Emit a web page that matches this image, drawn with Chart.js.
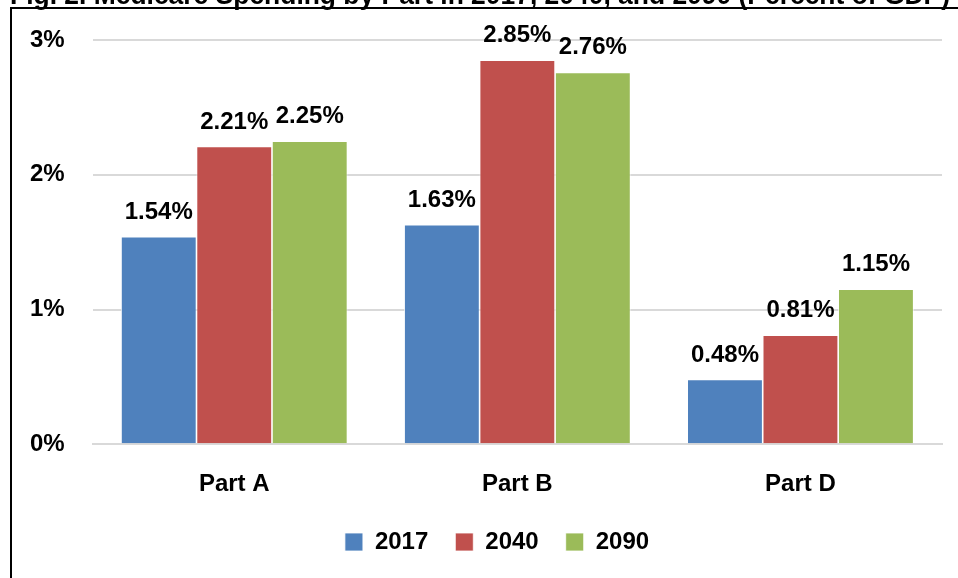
<!DOCTYPE html>
<html>
<head>
<meta charset="utf-8">
<script src="https://cdn.jsdelivr.net/npm/chart.js@4"></script>
<style>
  html, body { margin: 0; padding: 0; background: #ffffff; }
  #wrap { position: relative; width: 958px; height: 578px; overflow: hidden; background: #fff; }
  #frame { position: absolute; left: 10px; top: 7px; width: 1000px; height: 700px; border: 2px solid #000; box-sizing: border-box; }
  #cv { position: absolute; left: 0; top: -20px; }
</style>
</head>
<body>
<div id="wrap">
  <div id="frame"></div>
  <canvas id="cv" width="958" height="598"></canvas>
</div>
<script>
const titleText = 'Fig. 2. Medicare Spending by Part in 2017, 2040, and 2090 (Percent of GDP)';
const categories = ['Part A', 'Part B', 'Part D'];
const seriesNames = ['2017', '2040', '2090'];
const values2017 = [1.54, 1.63, 0.48];
const values2040 = [2.21, 2.85, 0.81];
const values2090 = [2.25, 2.76, 1.15];
const yTicks = [0, 1, 2, 3];
const colors = ['#4f81bd', '#c0504d', '#9bbb59'];

const FONT = "'Liberation Sans', Arial, sans-serif";

const valueLabels = {
  id: 'valueLabels',
  afterDatasetsDraw(chart) {
    const ctx = chart.ctx;
    ctx.save();
    ctx.font = 'bold 24px ' + FONT;
    ctx.fillStyle = '#000';
    ctx.textAlign = 'center';
    ctx.textBaseline = 'alphabetic';
    chart.data.datasets.forEach((ds, i) => {
      const meta = chart.getDatasetMeta(i);
      meta.data.forEach((el, j) => {
        ctx.fillText(ds.data[j].toFixed(2) + '%', el.x, el.y - 18);
      });
    });
    ctx.restore();
  }
};

const nudgeBlocks = {
  id: 'nudgeBlocks',
  afterLayout(chart) {
    if (chart.legend) { chart.legend.left += 25; chart.legend.right += 25; }
    if (chart.titleBlock) { chart.titleBlock.left += 8; chart.titleBlock.right += 8; }
  }
};

new Chart(document.getElementById('cv'), {
  type: 'bar',
  data: {
    labels: categories,
    datasets: [
      { label: seriesNames[0], data: values2017, backgroundColor: colors[0] },
      { label: seriesNames[1], data: values2040, backgroundColor: colors[1] },
      { label: seriesNames[2], data: values2090, backgroundColor: colors[2] }
    ].map(d => Object.assign(d, { borderColor: '#ffffff', borderWidth: 0.8, categoryPercentage: 0.8, barPercentage: 1.0 }))
  },
  options: {
    responsive: false,
    animation: false,
    layout: { padding: { left: 2, right: 16, top: 0, bottom: 14 } },
    plugins: {
      title: {
        display: true,
        text: titleText,
        color: '#000',
        font: { family: FONT, size: 27.6, weight: 'bold' },
        padding: { top: 0, bottom: 27 }
      },
      legend: {
        position: 'bottom',
        labels: {
          color: '#000',
          font: { family: FONT, size: 24, weight: 'bold' },
          boxWidth: 18,
          boxHeight: 18,
          padding: 27
        }
      },
      tooltip: { enabled: false }
    },
    scales: {
      x: {
        grid: { display: false, drawTicks: false },
        border: { display: true, color: '#d9d9d9', width: 2 },
        ticks: { color: '#000', font: { family: FONT, size: 24, weight: 'bold' }, padding: 26 },
        afterFit(scale) { scale.height -= 22; }
      },
      y: {
        min: 0,
        max: 3,
        afterBuildTicks(scale) { scale.ticks = yTicks.map(v => ({ value: v })); },
        grid: { color: '#d9d9d9', lineWidth: 2, drawTicks: false },
        border: { display: false },
        ticks: {
          color: '#000',
          font: { family: FONT, size: 24, weight: 'bold' },
          padding: 28,
          callback: v => v + '%'
        }
      }
    }
  },
  plugins: [valueLabels, nudgeBlocks]
});
</script>
</body>
</html>
